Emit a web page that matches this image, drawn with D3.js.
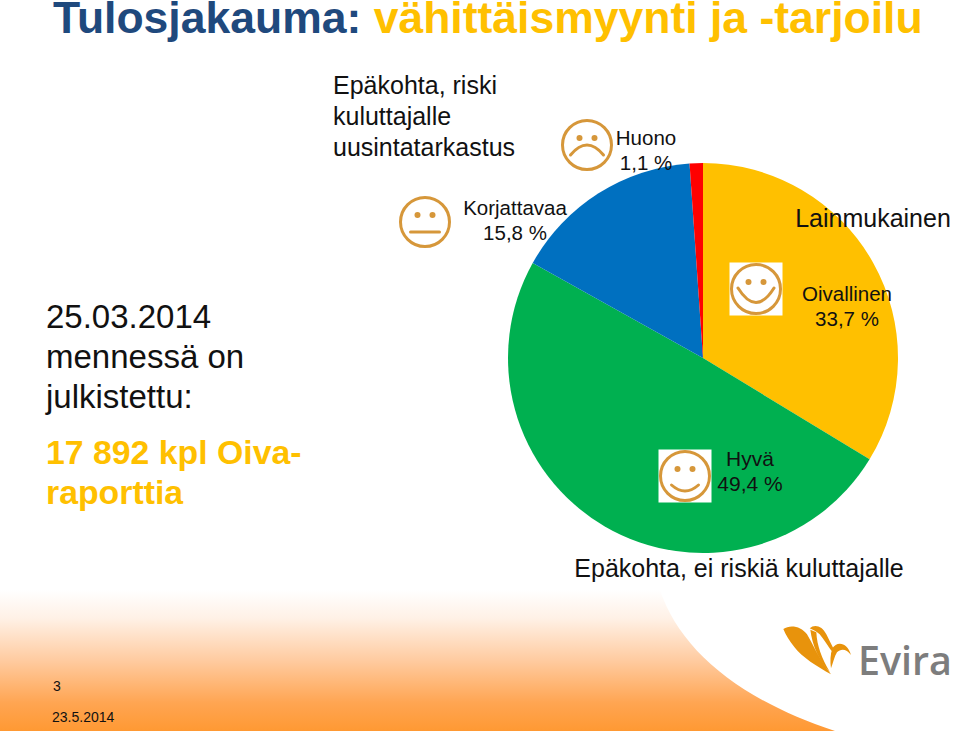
<!DOCTYPE html>
<html><head><meta charset="utf-8">
<script src="https://cdn.jsdelivr.net/npm/d3@7"></script>
<style>html,body{margin:0;padding:0;background:#fff}svg{display:block}text{font-family:"Liberation Sans",Arial,sans-serif}</style>
</head><body><svg id="c" width="960" height="731"></svg>
<script>
const categories = ["Oivallinen","Hyvä","Korjattava","Huono"];
const values = [33.7,49.4,15.8,1.1];
const colors = ["#FFC000","#00B050","#0070C0","#FF0000"];
const labels = [
 {l:["Oivallinen","33,7 %"],x:847,y:301,s:20.5},
 {l:["Hyvä","49,4 %"],x:750,y:466,s:21},
 {l:["Korjattavaa","15,8 %"],x:515,y:215,s:20.5},
 {l:["Huono","1,1 %"],x:646,y:145,s:20.5}
];
const notes = [
 {t:"Lainmukainen",x:873,y:227,s:25,a:"middle"},
 {t:"Epäkohta, ei riskiä kuluttajalle",x:739,y:577,s:25,a:"middle"},
 {t:"Epäkohta, riski",x:333,y:94,s:25,a:"start"},
 {t:"kuluttajalle",x:333,y:125,s:25,a:"start"},
 {t:"uusintatarkastus",x:333,y:156,s:25,a:"start"}
];
const faces = [
 {x:587,y:145,w:16.5,m:10,c:-10,box:false},
 {x:425,y:222,w:14.5,m:10,c:10,box:false},
 {x:756,y:289,w:18,m:-1,c:28,box:true},
 {x:685,y:476,w:13.5,m:9,c:21,box:true}
];
const svg = d3.select("#c");
const defs = svg.append("defs");
const g = defs.append("linearGradient").attr("id","fade").attr("x1",0).attr("x2",0).attr("y1",0).attr("y2",1);
[[0,"#FFFFFF"],[.2,"#FFF1E6"],[.5,"#FFCBA0"],[.8,"#FFA552"],[1,"#FF9933"]].forEach(d=>g.append("stop").attr("offset",d[0]).attr("stop-color",d[1]));

// footer band with white curved cut-out
svg.append("path")
 .attr("d","M0,590H660C680,650 740,700 835,731H0Z")
 .attr("fill","url(#fade)");

// title
const title = svg.append("text").attr("x",53).attr("y",33).attr("font-size",44.5).attr("font-weight","bold");
title.append("tspan").attr("fill","#1F497D").text("Tulosjakauma: ");
title.append("tspan").attr("fill","#FFC000").text("vähittäismyynti ja -tarjoilu");

// pie
const pie = d3.pie().sort(null).value(d=>d)(values);
const arc = d3.arc().innerRadius(0).outerRadius(195);
svg.append("g").attr("transform","translate(703,358)")
 .selectAll("path").data(pie).join("path")
 .attr("d",arc).attr("fill",(d,i)=>colors[i]);

// left text
[["25.03.2014",328],["mennessä on",368],["julkistettu:",408]].forEach(d=>
 svg.append("text").attr("x",46).attr("y",d[1]).attr("font-size",33).attr("fill","#111").text(d[0]));
[["17 892 kpl Oiva-",464],["raporttia",504]].forEach(d=>
 svg.append("text").attr("x",46).attr("y",d[1]).attr("font-size",33.8).attr("font-weight","bold").attr("fill","#FFC000").text(d[0]));

// notes and labels
notes.forEach(n=>svg.append("text").attr("x",n.x).attr("y",n.y).attr("font-size",n.s).attr("text-anchor",n.a).attr("fill","#111").text(n.t));
labels.forEach(n=>n.l.forEach((t,i)=>svg.append("text").attr("x",n.x).attr("y",n.y+i*25).attr("font-size",n.s).attr("text-anchor","middle").attr("fill","#111").text(t)));

// faces
const fc="#D6973A";
faces.forEach(f=>{
 const s=svg.append("g").attr("transform",`translate(${f.x},${f.y})`);
 if(f.box) s.append("rect").attr("x",-26.5).attr("y",-26.5).attr("width",53).attr("height",53).attr("fill","#fff");
 s.append("circle").attr("r",24.5).attr("fill","#fff").attr("stroke",fc).attr("stroke-width",3);
 [-1,1].forEach(k=>s.append("circle").attr("cx",k*7.5).attr("cy",-7).attr("r",3).attr("fill",fc));
 s.append("path").attr("d",`M${-f.w},${f.m}Q0,${f.c} ${f.w},${f.m}`).attr("fill","none").attr("stroke",fc).attr("stroke-width",3).attr("stroke-linecap","round");
});

// logo
const lg=svg.append("g").attr("transform","translate(775,615) scale(.3333)").attr("fill","#E8930C");
lg.append("path").attr("d","M25,42C45,28 78,33 96,58C114,88 132,132 168,178C128,156 80,126 58,96C44,78 32,60 25,42Z");
lg.append("path").attr("d","M104,40C118,26 142,32 154,58C162,74 168,86 175,100L170,108C160,96 146,72 134,58C126,50 114,44 104,40Z");
lg.append("path").attr("d","M106,44C112,90 130,135 165,172C140,130 126,92 124,52Z");
lg.append("path").attr("d","M172,100C185,78 217,80 228,120C215,102 198,100 186,112C178,125 174,145 168,160C165,140 166,118 172,100Z");
svg.append("text").attr("x",858).attr("y",675).attr("font-size",39.5).attr("font-weight","600").attr("textLength",94).attr("lengthAdjust","spacingAndGlyphs").attr("fill","#7D7D7D").style("font-family","'Open Sans',sans-serif").text("Evira");

// footer text
svg.append("text").attr("x",53).attr("y",691).attr("font-size",14).attr("fill","#111").text("3");
svg.append("text").attr("x",52).attr("y",722).attr("font-size",14).attr("fill","#111").text("23.5.2014");
</script></body></html>
